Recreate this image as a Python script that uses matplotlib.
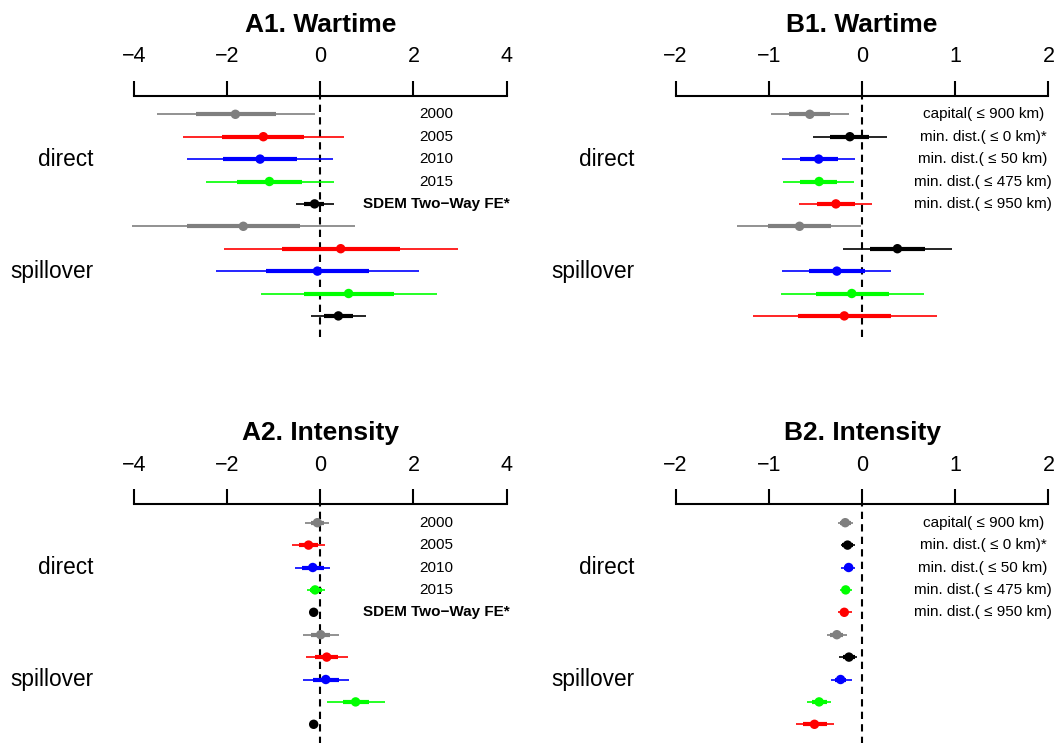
import matplotlib
matplotlib.use("Agg")
import matplotlib.pyplot as plt
import matplotlib.transforms as mtransforms
import numpy as np

plt.rcParams['font.family'] = ['Liberation Sans', 'DejaVu Sans']

# ---------------- data ----------------
rows = np.arange(1, 11)
groups = ["direct", "spillover"]

A_labels = ["2000", "2005", "2010", "2015", "SDEM Two\u2212Way FE*"]
B_labels = ["capital( \u2264 900 km)", "min. dist.( \u2264 0 km)*", "min. dist.( \u2264 50 km)",
            "min. dist.( \u2264 475 km)", "min. dist.( \u2264 950 km)"]

A_colors = ["#7F7F7F", "#FF0000", "#0000FF", "#00FF00", "#000000"] * 2
B_colors = ["#7F7F7F", "#000000", "#0000FF", "#00FF00", "#FF0000"] * 2

A1_est = [-1.82, -1.22, -1.29, -1.09, -0.12, -1.65, 0.44, -0.06, 0.61, 0.39]
A1_lo = [-3.51, -2.95, -2.85, -2.46, -0.53, -4.03, -2.07, -2.24, -1.26, -0.19]
A1_hi = [-0.12, 0.52, 0.28, 0.29, 0.29, 0.74, 2.95, 2.13, 2.51, 0.98]
A1_lo_in = [-2.67, -2.10, -2.08, -1.79, -0.34, -2.85, -0.83, -1.16, -0.35, 0.08]
A1_hi_in = [-0.95, -0.34, -0.49, -0.38, 0.09, -0.44, 1.71, 1.05, 1.58, 0.71]

A2_est = [-0.06, -0.25, -0.16, -0.11, -0.14, 0.01, 0.14, 0.12, 0.76, -0.14]
A2_lo = [-0.33, -0.60, -0.54, -0.29, -0.18, -0.37, -0.30, -0.36, 0.14, -0.20]
A2_hi = [0.19, 0.11, 0.22, 0.10, -0.10, 0.40, 0.59, 0.61, 1.39, -0.08]
A2_lo_in = [-0.19, -0.45, -0.40, -0.22, -0.16, -0.20, -0.11, -0.16, 0.49, -0.17]
A2_hi_in = [0.08, -0.04, 0.08, 0.03, -0.12, 0.22, 0.39, 0.41, 1.05, -0.11]

B1_est = [-0.56, -0.13, -0.465, -0.46, -0.28, -0.67, 0.38, -0.27, -0.11, -0.19]
B1_lo = [-0.98, -0.53, -0.855, -0.845, -0.68, -1.34, -0.20, -0.855, -0.866, -1.17]
B1_hi = [-0.14, 0.27, -0.075, -0.086, 0.11, -0.01, 0.97, 0.31, 0.66, 0.80]
B1_lo_in = [-0.78, -0.34, -0.67, -0.66, -0.48, -1.01, 0.09, -0.57, -0.49, -0.69]
B1_hi_in = [-0.34, 0.075, -0.26, -0.265, -0.08, -0.33, 0.68, 0.03, 0.29, 0.31]

B2_est = [-0.18, -0.155, -0.143, -0.175, -0.19, -0.27, -0.14, -0.23, -0.46, -0.51]
B2_lo = [-0.26, -0.225, -0.22, -0.24, -0.26, -0.38, -0.25, -0.33, -0.59, -0.71]
B2_hi = [-0.10, -0.075, -0.075, -0.107, -0.11, -0.16, -0.05, -0.11, -0.33, -0.30]
B2_lo_in = [-0.236, -0.21, -0.19, -0.215, -0.23, -0.34, -0.20, -0.29, -0.54, -0.63]
B2_hi_in = [-0.12, -0.10, -0.10, -0.135, -0.15, -0.20, -0.08, -0.17, -0.38, -0.38]

A_ticks = [-4, -2, 0, 2, 4]
B_ticks = [-2, -1, 0, 1, 2]

# ---------------- figure ----------------
W, H = 1056, 743
fig = plt.figure(figsize=(W / 100, H / 100), dpi=100)


def add_axes_px(left, top, width, height):
    return fig.add_axes([left / W, 1 - (top + height) / H, width / W, height / H])


def panel(ax, title, title_base_px, est, lo, hi, lo_in, hi_in, colors, labels,
          ticks, xlim, label_x, label_right_px):
    ax.set_xlim(*xlim)
    ax.set_ylim(10.94, 0.183)
    for s in ["left", "right", "bottom"]:
        ax.spines[s].set_visible(False)
    ax.spines["top"].set_bounds(ticks[0], ticks[-1])
    ax.spines["top"].set_linewidth(1.5)
    ax.xaxis.tick_top()
    ax.set_xticks(ticks)
    ax.tick_params(axis="x", direction="out", length=10.8, width=1.5,
                   labelsize=15.5, pad=10.0)
    ax.set_yticks([])
    ax.patch.set_alpha(0)

    ax.axvline(0, color="black", lw=1.5, linestyle=(0, (3.5, 2.5)), zorder=1)

    ax.hlines(rows, lo, hi, colors=colors, lw=1.2, zorder=2)
    ax.hlines(rows, lo_in, hi_in, colors=colors, lw=3.0, zorder=3)
    ax.scatter(est, rows, c=colors, s=46, zorder=4, linewidths=0)

    for i, lab in enumerate(labels):
        ax.text(label_x, rows[i], lab, ha="center", va="center", fontsize=11,
                fontweight="bold" if lab.startswith("SDEM") else "normal")

    trans_lab = mtransforms.blended_transform_factory(fig.transFigure, ax.transData)
    for g, r in zip(groups, [3, 8]):
        ax.text(label_right_px / W, r, g, transform=trans_lab, ha="right",
                va="center", fontsize=16.3)

    trans_t = mtransforms.blended_transform_factory(ax.transData, fig.transFigure)
    ax.text(0, 1 - title_base_px / H, title, transform=trans_t, ha="center",
            va="baseline", fontsize=19, fontweight="bold")


# pixel geometry
A_zero, A_unit = 320.2, 46.6
B_zero, B_unit = 862.0, 93.2
A_xlim = (-4.6, 4.6)
B_xlim = (-2.2, 2.05)
row_h = 22.4
ax_h = (10.94 - 0.183) * row_h

axA1 = add_axes_px(A_zero + A_xlim[0] * A_unit, 96, (A_xlim[1] - A_xlim[0]) * A_unit, ax_h)
axB1 = add_axes_px(B_zero + B_xlim[0] * B_unit, 96, (B_xlim[1] - B_xlim[0]) * B_unit, ax_h)
axA2 = add_axes_px(A_zero + A_xlim[0] * A_unit, 504.4, (A_xlim[1] - A_xlim[0]) * A_unit, ax_h)
axB2 = add_axes_px(B_zero + B_xlim[0] * B_unit, 504.4, (B_xlim[1] - B_xlim[0]) * B_unit, ax_h)

panel(axA1, "A1. Wartime", 32, A1_est, A1_lo, A1_hi, A1_lo_in, A1_hi_in,
      A_colors, A_labels, A_ticks, A_xlim, 2.5, 93)
panel(axB1, "B1. Wartime", 32, B1_est, B1_lo, B1_hi, B1_lo_in, B1_hi_in,
      B_colors, B_labels, B_ticks, B_xlim, 1.3, 634)
panel(axA2, "A2. Intensity", 440, A2_est, A2_lo, A2_hi, A2_lo_in, A2_hi_in,
      A_colors, A_labels, A_ticks, A_xlim, 2.5, 93)
panel(axB2, "B2. Intensity", 440, B2_est, B2_lo, B2_hi, B2_lo_in, B2_hi_in,
      B_colors, B_labels, B_ticks, B_xlim, 1.3, 634)

fig.savefig("out.png", dpi=100)
